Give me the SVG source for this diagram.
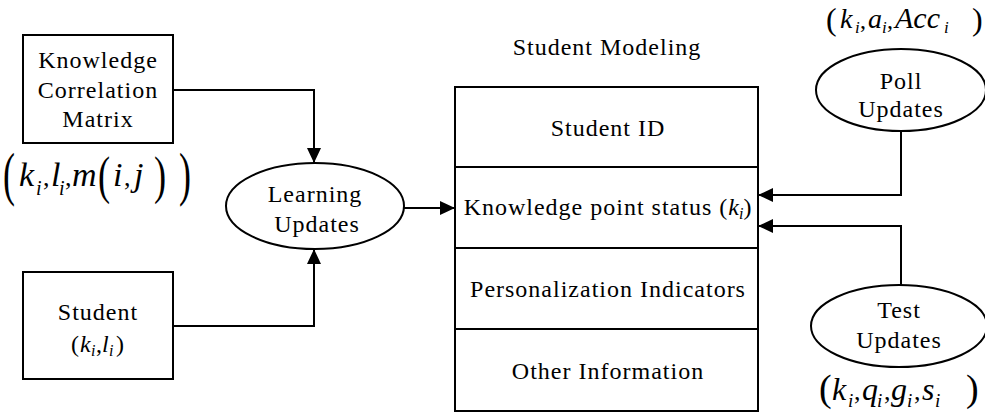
<svg xmlns="http://www.w3.org/2000/svg" width="985" height="416" viewBox="0 0 985 416">
  <style>
    .box { fill: #fff; stroke: #000; stroke-width: 2; }
    .ell { fill: #fff; stroke: #000; stroke-width: 2; }
    .conn { fill: none; stroke: #000; stroke-width: 2; }
    .lbl { font-family: "Liberation Serif", "Times New Roman", serif; font-size: 24px; letter-spacing: 1px; text-anchor: middle; fill: #000; }
    .math { font-family: "Liberation Serif", "Times New Roman", serif; fill: #000; }
    .it { font-style: italic; }
  </style>
  <defs>
    <marker id="arrow" viewBox="0 0 10 10" refX="10" refY="5" markerUnits="userSpaceOnUse" markerWidth="15" markerHeight="14" orient="auto" preserveAspectRatio="none">
      <path d="M0,0 L10,5 L0,10 z" fill="#000"/>
    </marker>
  </defs>

  <rect width="985" height="416" fill="#fff"/>

  <!-- connectors -->
  <g id="connectors">
    <path class="conn" d="M173,90 H314 V163" marker-end="url(#arrow)"/>
    <path class="conn" d="M173,326 H314 V249" marker-end="url(#arrow)"/>
    <path class="conn" d="M404,208 H455" marker-end="url(#arrow)"/>
    <path class="conn" d="M901,131 V195 H758" marker-end="url(#arrow)"/>
    <path class="conn" d="M901,285 V226 H758" marker-end="url(#arrow)"/>
  </g>

  <!-- knowledge correlation matrix -->
  <g id="kcm">
    <rect class="box" x="23" y="35" width="150" height="108"/>
    <text class="lbl" x="98" y="68">Knowledge</text>
    <text class="lbl" x="98" y="98">Correlation</text>
    <text class="lbl" x="98" y="127">Matrix</text>
    <g class="math">
      <text transform="translate(3,194) scale(0.6,1)" font-size="60">(</text>
      <text font-size="34" y="186"><tspan class="it" x="19">k</tspan><tspan class="it" x="36" y="195" font-size="20">i</tspan><tspan x="43" y="186" font-size="26">,</tspan><tspan class="it" x="51" y="186">l</tspan><tspan class="it" x="59" y="195" font-size="20">i</tspan><tspan x="65" y="186" font-size="26">,</tspan><tspan class="it" x="72" y="186">m</tspan><tspan class="it" x="113" y="186">i</tspan><tspan x="124" font-size="26">,</tspan><tspan class="it" x="134" font-size="34">j</tspan></text>
      <text transform="translate(98,193) scale(0.7,1)" font-size="52">(</text>
      <text transform="translate(154,193) scale(0.7,1)" font-size="52">)</text>
      <text transform="translate(179,194) scale(0.6,1)" font-size="60">)</text>
    </g>
  </g>

  <!-- student -->
  <g id="student">
    <rect class="box" x="23" y="272" width="150" height="107"/>
    <text class="lbl" x="98" y="320">Student</text>
    <text class="math" font-size="24" y="352"><tspan x="71">(</tspan><tspan class="it" x="80">k</tspan><tspan class="it" x="91" y="356" font-size="16">i</tspan><tspan x="96" y="352">,</tspan><tspan class="it" x="102">l</tspan><tspan class="it" x="109" y="356" font-size="16">i</tspan><tspan x="116" y="352">)</tspan></text>
  </g>

  <!-- learning updates -->
  <g id="learning">
    <ellipse class="ell" cx="315" cy="206" rx="89" ry="43"/>
    <text class="lbl" x="315" y="202">Learning</text>
    <text class="lbl" x="317" y="232">Updates</text>
  </g>

  <!-- student modeling record -->
  <g id="modeling">
    <text class="lbl" x="607" y="55">Student Modeling</text>
    <rect class="box" x="455" y="87" width="303" height="324"/>
    <path class="conn" d="M455,167 H758 M455,248 H758 M455,329 H758"/>
    <text class="lbl" x="608" y="136">Student ID</text>
    <text class="lbl" x="608" y="215">Knowledge point status (<tspan font-style="italic" letter-spacing="0">k</tspan><tspan font-style="italic" font-size="16" dy="4" letter-spacing="0">i</tspan><tspan dy="-4">)</tspan></text>
    <text class="lbl" x="608" y="297">Personalization Indicators</text>
    <text class="lbl" x="608" y="379">Other Information</text>
  </g>

  <!-- poll updates -->
  <g id="poll">
    <ellipse class="ell" cx="901" cy="90" rx="85" ry="41"/>
    <text class="lbl" x="901" y="89">Poll</text>
    <text class="lbl" x="901" y="117">Updates</text>
    <text class="math" font-size="28" y="28"><tspan x="826" font-size="32" y="30">(</tspan><tspan class="it" x="840" y="28">k</tspan><tspan class="it" x="855" y="33" font-size="17">i</tspan><tspan x="860" y="28" font-size="24">,</tspan><tspan class="it" x="868" y="28">a</tspan><tspan class="it" x="882" y="33" font-size="17">i</tspan><tspan x="887" y="28" font-size="24">,</tspan><tspan class="it" x="895" y="28" font-size="30">Acc</tspan><tspan class="it" x="944" y="33" font-size="17">i</tspan><tspan x="972" font-size="32" y="30">)</tspan></text>
  </g>

  <!-- test updates -->
  <g id="test">
    <ellipse class="ell" cx="899" cy="326" rx="88" ry="41"/>
    <text class="lbl" x="899" y="318">Test</text>
    <text class="lbl" x="899" y="348">Updates</text>
    <text class="math" font-size="32" y="400"><tspan x="819" font-size="38" y="401">(</tspan><tspan class="it" x="832" y="400">k</tspan><tspan class="it" x="848" y="407" font-size="19">i</tspan><tspan x="854" y="400" font-size="26">,</tspan><tspan class="it" x="862" y="400">q</tspan><tspan class="it" x="877" y="407" font-size="19">i</tspan><tspan x="884" y="400" font-size="26">,</tspan><tspan class="it" x="891" y="400">g</tspan><tspan class="it" x="907" y="407" font-size="19">i</tspan><tspan x="914" y="400" font-size="26">,</tspan><tspan class="it" x="922" y="400">s</tspan><tspan class="it" x="935" y="407" font-size="19">i</tspan><tspan x="966" font-size="38" y="401">)</tspan></text>
  </g>
</svg>
